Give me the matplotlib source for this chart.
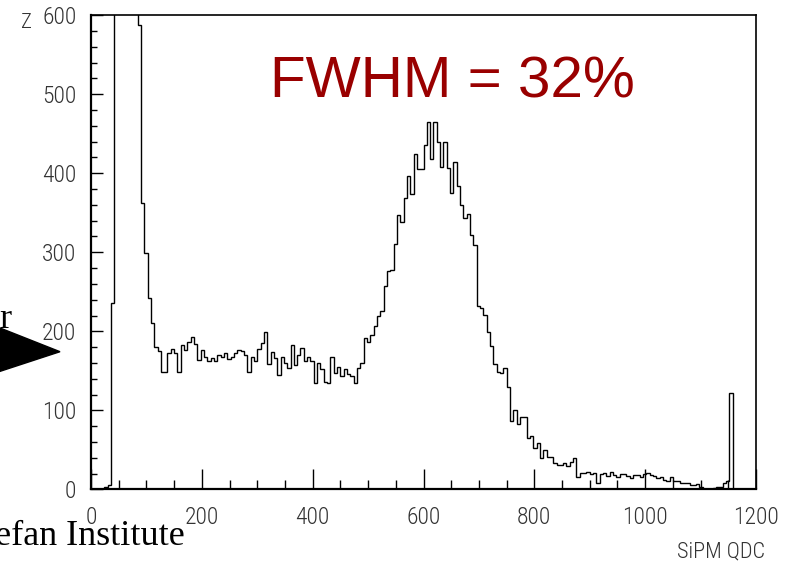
import numpy as np
import matplotlib
matplotlib.use("Agg")
import matplotlib.pyplot as plt
from matplotlib.ticker import MultipleLocator
from matplotlib.patches import Polygon

# ==========================
# Data: SiPM QDC spectrum (200 bins, 6 channels each)
# ==========================
qdc_min = 0
bin_width = 6
counts = [
    0, 0, 0, 0, 3, 6, 236, 900, 1600, 2300,
    2100, 1500, 1000, 700, 588, 362, 299, 242, 210, 180,
    175, 148, 149, 172, 177, 172, 148, 183, 176, 186,
    193, 184, 164, 176, 168, 162, 166, 162, 170, 168,
    172, 165, 168, 172, 176, 175, 170, 148, 168, 162,
    177, 185, 199, 158, 174, 166, 145, 167, 160, 154,
    183, 157, 170, 179, 162, 167, 162, 135, 160, 152,
    136, 135, 167, 147, 155, 143, 152, 146, 143, 135,
    154, 160, 192, 186, 195, 207, 219, 226, 257, 276,
    278, 310, 347, 338, 369, 397, 374, 424, 405, 405,
    436, 465, 418, 465, 440, 408, 440, 407, 375, 414,
    384, 360, 343, 349, 322, 309, 232, 230, 221, 199,
    182, 158, 148, 147, 154, 130, 87, 101, 83, 92,
    92, 65, 68, 52, 59, 39, 50, 41, 41, 33,
    31, 31, 33, 29, 34, 39, 16, 21, 21, 22,
    20, 21, 8, 20, 21, 17, 22, 18, 16, 20,
    20, 17, 14, 18, 18, 15, 19, 21, 18, 17,
    14, 16, 12, 10, 15, 10, 10, 8, 8, 8,
    6, 5, 7, 3, 0, 0, 0, 2, 3, 3,
    8, 11, 122, 0, 0, 0, 0, 0, 0, 0,
]

x_ticks = [0, 200, 400, 600, 800, 1000, 1200]
y_ticks = [0, 100, 200, 300, 400, 500, 600]
x_title = "SiPM QDC"
fwhm_label = "FWHM = 32%"
institute = "Stefan Institute"

narrow = ["Liberation Sans Narrow", "Roboto Condensed", "Liberation Sans"]

# ==========================
# Figure
# ==========================
W, H = 793, 564
fig = plt.figure(figsize=(W / 100, H / 100), dpi=100)
ax = fig.add_axes([91 / W, 1 - 489.3 / H, 665 / W, 474 / H])

edges = qdc_min + bin_width * np.arange(len(counts) + 1)
ax.stairs(counts, edges, color="black", lw=1.0)

ax.set_xlim(x_ticks[0], x_ticks[-1])
ax.set_ylim(y_ticks[0], y_ticks[-1])
ax.set_xticks(x_ticks)
ax.set_yticks(y_ticks)
ax.xaxis.set_minor_locator(MultipleLocator(50))
ax.yaxis.set_minor_locator(MultipleLocator(20))

ax.tick_params(axis="x", which="major", direction="in", length=14.4, width=1, pad=12)
ax.tick_params(axis="x", which="minor", direction="in", length=6.5, width=1)
ax.tick_params(axis="y", which="major", direction="in", length=8.6, width=1, pad=10.5)
ax.tick_params(axis="y", which="minor", direction="in", length=4.3, width=1)
ax.tick_params(top=False, right=False, which="both")

for lab in ax.get_xticklabels() + ax.get_yticklabels():
    lab.set_family(narrow)
    lab.set_fontsize(17)
    lab.set_fontweight("light")
    lab.set_color("#333333")

for side in ["left", "bottom"]:
    ax.spines[side].set_linewidth(1.6)
for side in ["top", "right"]:
    ax.spines[side].set_linewidth(1.2)

# ==========================
# Annotations
# ==========================
fig.text(765 / W, 1 - 557 / H, x_title, ha="right", va="baseline",
         family=narrow, fontsize=16, fontweight="light", color="#333333")
fig.text(26 / W, 1 - 22 / H, "Z", ha="center", va="center",
         family=narrow, fontsize=15, fontweight="light", color="#333333")
fig.text(270 / W, 1 - 98 / H, fwhm_label, ha="left", va="baseline",
         family=["Liberation Sans"], fontsize=42, color="#990000")
fig.text(185 / W, 1 - 545 / H, institute, ha="right", va="baseline",
         family=["Liberation Serif"], fontsize=26, color="black")
fig.text(11 / W, 1 - 328 / H, "r", ha="right", va="baseline",
         family=["Liberation Serif"], fontsize=26, color="black")

tri = Polygon([(-5 / W, 1 - 326 / H), (60 / W, 1 - 351.7 / H), (-5 / W, 1 - 373 / H)],
              closed=True, facecolor="black", edgecolor="black",
              transform=fig.transFigure, clip_on=False)
fig.add_artist(tri)

fig.savefig("out.png", dpi=100)
